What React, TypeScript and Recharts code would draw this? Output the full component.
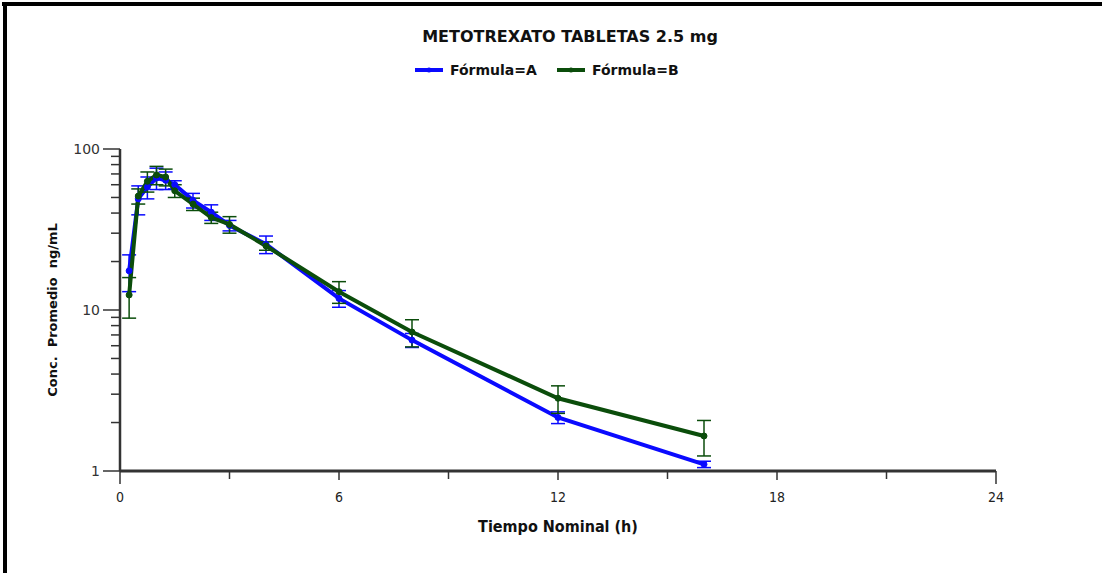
import React from 'react';
import { LineChart, Line, XAxis, YAxis, ErrorBar } from 'recharts';

const times = [0.25, 0.5, 0.75, 1, 1.25, 1.5, 2, 2.5, 3, 4, 6, 8, 12, 16];
const formulaA = [17.5, 49, 58, 66, 64, 60, 48, 40.5, 33.5, 25.6, 11.8, 6.5, 2.15, 1.1];
const formulaASd = [4.5, 10, 9, 10, 8, 3.5, 5, 4.5, 2.5, 3.2, 1.4, 0.65, 0.18, 0.05];
const formulaB = [12.4, 51, 63, 69, 67, 55, 45.5, 37.5, 34, 25, 13, 7.3, 2.83, 1.65];
const formulaBSd = [3.5, 5.5, 9, 9, 8, 5, 4, 3, 4, 1.5, 2, 1.4, 0.55, 0.41];
const xTicks = [0, 3, 6, 9, 12, 15, 18, 21, 24];
const xLabelTicks = [0, 6, 12, 18, 24];
const yTicks = [1, 2, 3, 4, 5, 6, 7, 8, 9, 10, 20, 30, 40, 50, 60, 70, 80, 90, 100];
const yLabelTicks = [1, 10, 100];

const title = 'METOTREXATO TABLETAS 2.5 mg';
const seriesNames = ['Fórmula=A', 'Fórmula=B'];
const xTitle = 'Tiempo Nominal (h)';
const yTitle = 'Conc.  Promedio  ng/mL';

const BLUE = '#0a0aff';
const GREEN = '#0b4d0b';
const AXIS = '#333333';

const data = times.map((t, i) => ({
  t,
  a: formulaA[i],
  aSd: formulaASd[i],
  b: formulaB[i],
  bSd: formulaBSd[i],
}));

const W = 1102;
const H = 573;
const PLOT_LEFT = 120;
const PLOT_RIGHT = 996;
const PLOT_TOP = 149;
const PLOT_BOTTOM = 471;
const Y_AXIS_W = 60;
const X_AXIS_H = 40;

const YTick = (props: any) => {
  const { x, y, payload } = props;
  const v = payload.value;
  const major = yLabelTicks.includes(v);
  return (
    <g>
      <line x1={x - (major ? 17 : 9)} x2={x} y1={y} y2={y} stroke={AXIS} strokeWidth={1.5} />
      {major && (
        <text x={x - 20} y={y} dy={5} textAnchor="end" fontSize={14} fill="#333" fontFamily="'DejaVu Sans', sans-serif">
          {v}
        </text>
      )}
    </g>
  );
};

const XTick = (props: any) => {
  const { x, y, payload } = props;
  const v = payload.value;
  const major = xLabelTicks.includes(v);
  const len = v === 0 || v === 24 ? 13 : major ? 9 : 8;
  return (
    <g>
      <line x1={x} x2={x} y1={y} y2={y + len} stroke={AXIS} strokeWidth={1.5} />
      {major && (
        <text x={x} y={y + 31} textAnchor="middle" fontSize={14} fill="#222" fontFamily="'Liberation Sans Narrow', 'DejaVu Sans Condensed', sans-serif">
          {v}
        </text>
      )}
    </g>
  );
};

const LegendSample = ({ color }: { color: string }) => (
  <svg width={30} height={10} style={{ display: 'block' }}>
    <line x1={1} x2={29} y1={5} y2={5} stroke={color} strokeWidth={4} />
    <circle cx={15} cy={5} r={2.5} fill={color} />
  </svg>
);

export default function App() {
  return (
    <div style={{ position: 'absolute', left: 0, top: 0, width: W, height: H, background: '#fff', overflow: 'hidden' }}>
      <div style={{ position: 'absolute', left: 2, top: 2, width: W - 2, height: 4, background: '#000' }} />
      <div style={{ position: 'absolute', left: 3, top: 2, width: 4, height: H - 2, background: '#000' }} />
      <div
        style={{
          position: 'absolute',
          left: 0,
          width: 1140,
          top: 27,
          textAlign: 'center',
          fontFamily: "'DejaVu Sans', sans-serif",
          fontWeight: 'bold',
          fontSize: 16,
          color: '#111',
          lineHeight: '20px',
        }}
      >
        {title}
      </div>
      <div style={{ position: 'absolute', left: 414, top: 60, display: 'flex', alignItems: 'center', fontFamily: "'DejaVu Sans', sans-serif", fontWeight: 'bold', fontSize: 14, color: '#111', lineHeight: '20px' }}>
        <LegendSample color={BLUE} />
        <span style={{ marginLeft: 6, width: 106 }}>{seriesNames[0]}</span>
        <LegendSample color={GREEN} />
        <span style={{ marginLeft: 6 }}>{seriesNames[1]}</span>
      </div>
      <div
        style={{
          position: 'absolute',
          left: 52,
          top: 310,
          transform: 'translate(-50%, -50%) rotate(-90deg)',
          whiteSpace: 'pre',
          fontFamily: "'DejaVu Sans', sans-serif",
          fontWeight: 'bold',
          fontSize: 13,
          color: '#111',
        }}
      >
        {yTitle}
      </div>
      <div
        style={{
          position: 'absolute',
          left: 558,
          top: 526,
          transform: 'translate(-50%, -50%)',
          whiteSpace: 'pre',
          fontFamily: "'Liberation Sans Narrow', 'DejaVu Sans Condensed', sans-serif",
          fontWeight: 'bold',
          fontSize: 16,
          color: '#111',
        }}
      >
        {xTitle}
      </div>
      <div style={{ position: 'absolute', left: 0, top: 0 }}>
        <LineChart
          width={W}
          height={H}
          data={data}
          margin={{ top: PLOT_TOP, right: W - PLOT_RIGHT, bottom: H - PLOT_BOTTOM - X_AXIS_H, left: PLOT_LEFT - Y_AXIS_W }}
        >
          <XAxis
            dataKey="t"
            type="number"
            domain={[0, 24]}
            ticks={xTicks}
            interval={0}
            height={X_AXIS_H}
            tickSize={0}
            tickMargin={0}
            tickLine={false}
            axisLine={{ stroke: AXIS, strokeWidth: 3 }}
            tick={<XTick />}
          />
          <YAxis
            type="number"
            scale="log"
            domain={[1, 100]}
            ticks={yTicks}
            interval={0}
            width={Y_AXIS_W}
            tickSize={0}
            tickMargin={0}
            tickLine={false}
            allowDataOverflow
            axisLine={{ stroke: AXIS, strokeWidth: 2.5 }}
            tick={<YTick />}
          />
          <Line
            type="linear"
            dataKey="a"
            stroke={BLUE}
            strokeWidth={4}
            dot={{ r: 3, fill: BLUE, stroke: BLUE, strokeWidth: 1 }}
            isAnimationActive={false}
          >
            <ErrorBar dataKey="aSd" direction="y" width={7} stroke={BLUE} strokeWidth={1.5} isAnimationActive={false} />
          </Line>
          <Line
            type="linear"
            dataKey="b"
            stroke={GREEN}
            strokeWidth={4}
            dot={{ r: 3, fill: GREEN, stroke: GREEN, strokeWidth: 1 }}
            isAnimationActive={false}
          >
            <ErrorBar dataKey="bSd" direction="y" width={7} stroke={GREEN} strokeWidth={1.5} isAnimationActive={false} />
          </Line>
        </LineChart>
      </div>
    </div>
  );
}
